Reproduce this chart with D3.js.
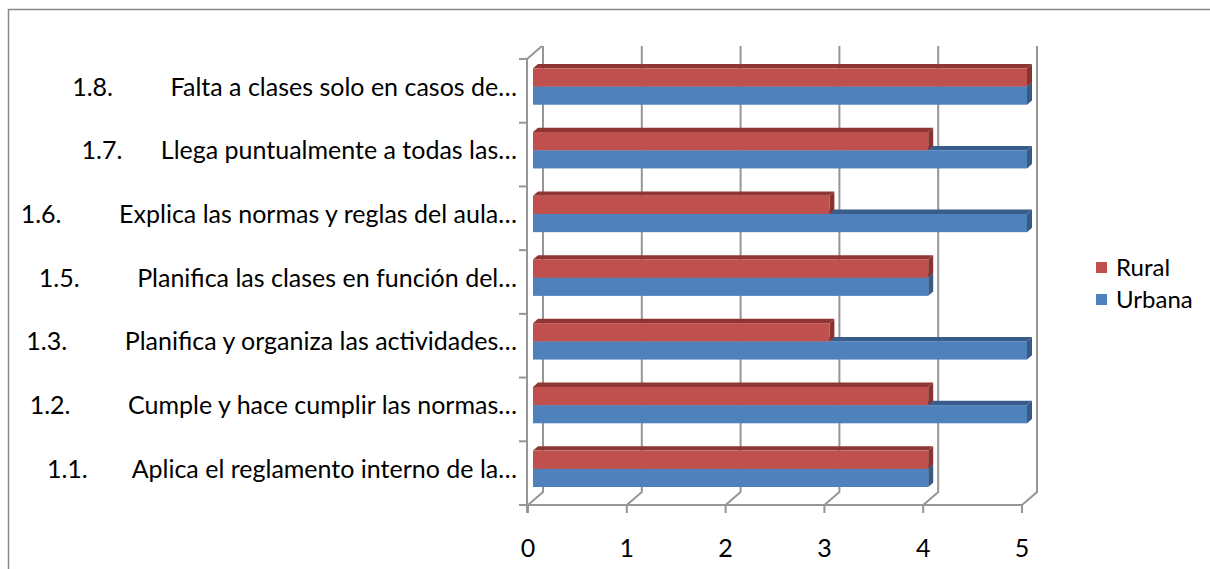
<!DOCTYPE html>
<html>
<head>
<meta charset="utf-8">
<script src="https://cdn.jsdelivr.net/npm/d3@7"></script>
<style>
  html, body { margin: 0; padding: 0; background: #fff; }
  svg { display: block; }
  text { font-family: Lato, "Liberation Sans", sans-serif; fill: #000; }
</style>
</head>
<body>
<svg id="chart" width="1210" height="569"></svg>
<script>
// categories, bottom to top (as the source sheet lists them)
const categories = [
    "1.1.       Aplica el reglamento interno de la…",
    "1.2.         Cumple y hace cumplir las normas…",
    "1.3.         Planifica y organiza las actividades…",
    "1.5.         Planifica las clases en función del…",
    "1.6.         Explica las normas y reglas del aula…",
    "1.7.      Llega puntualmente a todas las…",
    "1.8.         Falta a clases solo en casos de…"
];
const series = ["Urbana", "Rural"];
const urbana = [4, 5, 5, 4, 5, 5, 5];
const rural = [4, 4, 3, 4, 3, 4, 5];
const xTicks = [0, 1, 2, 3, 4, 5];

const colors = {
    Rural: { front: "#c0504d", top: "#8f3634", side: "#8a3432" },
    Urbana: { front: "#4f81bd", top: "#385d8a", side: "#375b87" }
};
const gridColor = "#969696";
const fontSize = "25px";

const svg = d3.select("#chart");

// chart border
svg.append("rect")
    .attr("x", 8.5).attr("y", 9.5)
    .attr("width", 1220).attr("height", 600)
    .attr("fill", "none")
    .attr("stroke", "#888")
    .attr("stroke-width", 1.5);

// front plane of the 3D box
const x = d3.scaleLinear().domain([0, 5]).range([528, 1022]);
const y = d3.scaleBand().domain(d3.range(categories.length)).range([505, 59]);
const bw = y.bandwidth();
// gap width 150%
const ySeries = d3.scaleBand().domain(["Rural", "Urbana"])
    .range([bw * 0.75 / 3.5, bw * 2.75 / 3.5]);

const depth = { dx: 15, dy: -13 };
const barFront = { dx: depth.dx / 3, dy: depth.dy / 3 };
const barDepth = { dx: depth.dx / 3, dy: depth.dy / 3 };

const g = svg.append("g");

// back wall gridlines + floor diagonals
xTicks.forEach(t => {
    const fx = x(t), bx = x(t) + depth.dx;
    g.append("path")
        .attr("d", `M${fx},505 L${bx},${505 + depth.dy} L${bx},${59 + depth.dy}`)
        .attr("fill", "none")
        .attr("stroke", gridColor)
        .attr("stroke-width", 2);
});

// left wall top edge
g.append("line")
    .attr("x1", x(0) - 1).attr("y1", 59)
    .attr("x2", x(0) - 1 + depth.dx).attr("y2", 59 + depth.dy)
    .attr("stroke", gridColor).attr("stroke-width", 2);

// bars
const barData = [];
categories.forEach((c, i) => {
    series.forEach(s => {
        barData.push({ cat: i, series: s, value: s === "Rural" ? rural[i] : urbana[i] });
    });
});

const bars = g.selectAll(".bar")
    .data(barData)
    .enter()
    .append("g")
    .attr("class", "bar");

function facePoints(d) {
    const xl = x(0) + barFront.dx;
    const xr = x(d.value) + barFront.dx;
    const yt = y(d.cat) + ySeries(d.series) + barFront.dy;
    const yb = yt + ySeries.bandwidth();
    return { xl, xr, yt, yb };
}

bars.append("polygon")
    .attr("points", d => {
        const p = facePoints(d);
        return [[p.xl, p.yt], [p.xr, p.yt], [p.xr + barDepth.dx, p.yt + barDepth.dy], [p.xl + barDepth.dx, p.yt + barDepth.dy]].join(" ");
    })
    .attr("fill", d => colors[d.series].top);

bars.append("polygon")
    .attr("points", d => {
        const p = facePoints(d);
        return [[p.xr, p.yt], [p.xr + barDepth.dx, p.yt + barDepth.dy], [p.xr + barDepth.dx, p.yb + barDepth.dy], [p.xr, p.yb]].join(" ");
    })
    .attr("fill", d => colors[d.series].side);

bars.append("rect")
    .attr("x", d => facePoints(d).xl)
    .attr("y", d => facePoints(d).yt)
    .attr("width", d => facePoints(d).xr - facePoints(d).xl)
    .attr("height", ySeries.bandwidth())
    .attr("fill", d => colors[d.series].front);

// front axes
g.append("line")
    .attr("x1", x(0) - 1).attr("y1", 59)
    .attr("x2", x(0) - 1).attr("y2", 513)
    .attr("stroke", gridColor).attr("stroke-width", 2);
g.append("line")
    .attr("x1", 519).attr("y1", 505)
    .attr("x2", x(5)).attr("y2", 505)
    .attr("stroke", gridColor).attr("stroke-width", 2);

// category ticks
d3.range(categories.length + 1).forEach(i => {
    const yy = 505 - i * bw;
    g.append("line")
        .attr("x1", 519).attr("y1", yy)
        .attr("x2", x(0) - 1).attr("y2", yy)
        .attr("stroke", gridColor).attr("stroke-width", 2);
});

// value ticks
xTicks.forEach(t => {
    g.append("line")
        .attr("x1", x(t)).attr("y1", 505)
        .attr("x2", x(t)).attr("y2", 513)
        .attr("stroke", gridColor).attr("stroke-width", 2);
});

// x tick labels
svg.selectAll(".xlabel")
    .data(xTicks)
    .enter()
    .append("text")
    .attr("class", "xlabel")
    .attr("x", d => x(d))
    .attr("y", 548)
    .attr("dy", "0.35em")
    .attr("text-anchor", "middle")
    .attr("font-size", fontSize)
    .text(d => d);

// category labels
svg.selectAll(".ylabel")
    .data(categories)
    .enter()
    .append("text")
    .attr("class", "ylabel")
    .attr("xml:space", "preserve")
    .style("white-space", "pre")
    .attr("x", 517)
    .attr("y", (d, i) => y(i) + bw / 2 - 4)
    .attr("dy", "0.35em")
    .attr("text-anchor", "end")
    .attr("font-size", fontSize)
    .text(d => d);

// legend
const legend = svg.append("g");
["Rural", "Urbana"].forEach((s, i) => {
    legend.append("rect")
        .attr("x", 1096).attr("y", 262 + i * 32)
        .attr("width", 11).attr("height", 11)
        .attr("fill", colors[s].front);
    legend.append("text")
        .attr("x", 1116).attr("y", 268 + i * 32)
        .attr("dy", "0.35em")
        .attr("font-size", "24px")
        .text(s);
});
</script>
</body>
</html>
